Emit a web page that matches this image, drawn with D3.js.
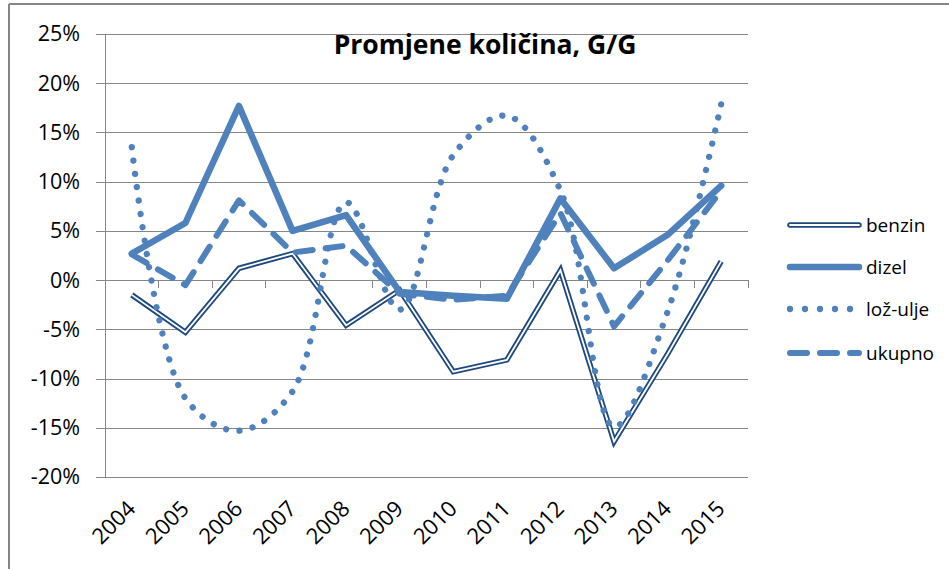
<!DOCTYPE html>
<head>
  <meta charset="utf-8">
  <script src="https://cdn.jsdelivr.net/npm/d3@7"></script>
  <style>
    body { margin:0; background:#fff; }
    text { font-family: "Open Sans", sans-serif; fill:#000; }
  </style>
</head>
<body>
<script>
// data (percent change, year on year)
var years = ["2004","2005","2006","2007","2008","2009","2010","2011","2012","2013","2014","2015"];
var benzin  = [-1.5, -5.3,  1.2,  2.7, -4.6, -1.0, -9.3, -8.1,  1.0, -16.4, -7.5,  1.9];
var dizel   = [ 2.7,  5.8, 17.7,  5.0,  6.6, -1.2, -1.6, -1.9,  8.3,   1.2,  4.6,  9.6];
var lozUlje = [13.5,-12.0,-15.3,-11.3,  7.9, -3.0, 12.7, 16.7,  9.1, -14.9, -3.2, 17.9];
var ukupno  = [ 2.6, -0.5,  8.1,  2.8,  3.5, -1.4, -2.0, -1.6,  6.8,  -4.7,  2.0,  9.1];
var yTicks  = [-20, -15, -10, -5, 0, 5, 10, 15, 20, 25];
var seriesNames = ["benzin", "dizel", "lož-ulje", "ukupno"];

var width = 949, height = 569;
var blue = "#4f81bd", dark = "#1f497d", grid = "#868686";

var svg = d3.select("body").append("svg")
  .attr("width", width)
  .attr("height", height);

// outer chart border (only top and left edges visible)
svg.append("line").attr("x1", 9).attr("y1", 4).attr("x2", width).attr("y2", 4)
  .attr("stroke", grid).attr("stroke-width", 2);
svg.append("line").attr("x1", 9).attr("y1", 4).attr("x2", 9).attr("y2", height)
  .attr("stroke", grid).attr("stroke-width", 2);

var x = d3.scaleBand().domain(years).range([105, 748]);
var y = d3.scaleLinear().domain([-20, 25]).range([477, 34]);

// gridlines + left ticks
var yAxis = d3.axisLeft(y).tickValues(yTicks)
  .tickSize(-(748 - 96)).tickPadding(16)
  .tickFormat(function(d) { return d + "%"; });
var gy = svg.append("g").attr("transform", "translate(96,0)").call(yAxis);
gy.select(".domain").remove();
gy.selectAll("line").attr("stroke", grid).attr("shape-rendering", "crispEdges");
gy.selectAll("text").attr("x", -16).style("font-size", "21.5px").attr("fill", "#222");

// vertical axis line
svg.append("line").attr("x1", 105).attr("x2", 105).attr("y1", y(25)).attr("y2", y(-20))
  .attr("stroke", grid).attr("shape-rendering", "crispEdges");

// category ticks on the zero line
var bounds = years.map(function(d) { return x(d); }).concat([748]);
svg.append("g").selectAll("line").data(bounds).enter().append("line")
  .attr("x1", function(d) { return d; }).attr("x2", function(d) { return d; })
  .attr("y1", y(0)).attr("y2", y(0) + 8)
  .attr("stroke", grid).attr("shape-rendering", "crispEdges");

// year labels at the bottom, rotated
svg.append("g").selectAll("text").data(years).enter().append("text")
  .attr("transform", function(d) {
    return "translate(" + (x(d) + x.bandwidth() / 2 + 5) + "," + (y(-20) + 33) + ") rotate(-45)";
  })
  .attr("text-anchor", "end")
  .style("font-size", "22px")
  .attr("fill", "#222")
  .text(function(d) { return d; });

// title
svg.append("text")
  .attr("x", 485).attr("y", 54)
  .attr("text-anchor", "middle")
  .style("font-size", "26.5px").style("font-weight", "bold")
  .text("Promjene količina, G/G");

function cx(d, i) { return x(years[i]) + x.bandwidth() / 2; }
var straight = d3.line().x(cx).y(function(d) { return y(d); });
var smooth = d3.line().x(cx).y(function(d) { return y(d); }).curve(d3.curveCatmullRom.alpha(0.5));

var plot = svg.append("g").attr("fill", "none");

// benzin: double line
plot.append("path").attr("d", straight(benzin))
  .attr("stroke", dark).attr("stroke-width", 5.5).attr("stroke-linejoin", "miter");
plot.append("path").attr("d", straight(benzin))
  .attr("stroke", "#fff").attr("stroke-width", 1.8).attr("stroke-linejoin", "miter");

// dizel
plot.append("path").attr("d", straight(dizel))
  .attr("stroke", blue).attr("stroke-width", 6.5)
  .attr("stroke-linejoin", "round").attr("stroke-linecap", "round");

// lož-ulje, smoothed dotted (spacing fitted so a dot sits on both ends)
var loz = plot.append("path").attr("d", smooth(lozUlje))
  .attr("stroke", blue).attr("stroke-width", 6.3)
  .attr("stroke-linecap", "round");
var L = loz.node().getTotalLength();
loz.attr("stroke-dasharray", "0.01," + (L / Math.round(L / 13.5) - 0.02));

// ukupno, dashed
plot.append("path").attr("d", straight(ukupno))
  .attr("stroke", blue).attr("stroke-width", 6)
  .attr("stroke-linejoin", "round").attr("stroke-linecap", "round")
  .attr("stroke-dasharray", "17,13");

// legend
var legY = [225, 267, 309, 353];
var leg = svg.append("g");
seriesNames.forEach(function(name, i) {
  var g = leg.append("g").attr("transform", "translate(0," + legY[i] + ")");
  var ln = function() {
    return g.append("line").attr("x1", 790).attr("x2", 859).attr("y1", 0).attr("y2", 0)
      .attr("stroke-linecap", "round");
  };
  if (i == 0) {
    ln().attr("stroke", dark).attr("stroke-width", 5.5);
    ln().attr("stroke", "#fff").attr("stroke-width", 1.8);
  } else if (i == 1) {
    ln().attr("stroke", blue).attr("stroke-width", 6.5);
  } else if (i == 2) {
    ln().attr("x2", 860).attr("stroke", blue).attr("stroke-width", 6.3).attr("stroke-dasharray", "0,15");
  } else {
    ln().attr("stroke", blue).attr("stroke-width", 6).attr("stroke-dasharray", "17,13");
  }
  g.append("text").attr("x", 866).attr("y", 0).attr("dy", "0.35em")
    .style("font-size", "19px").attr("fill", "#222").text(name);
});
</script>
</body>
